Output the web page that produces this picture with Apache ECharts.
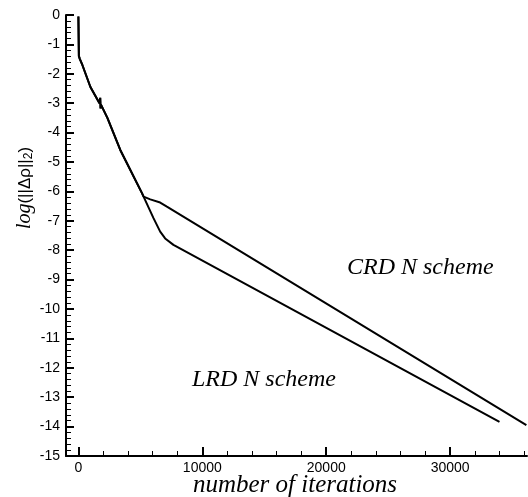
<!doctype html>
<html lang="en">
<head>
    <meta charset="UTF-8">
    <title>residual history</title>
    <script src="https://cdn.jsdelivr.net/npm/echarts@6/dist/echarts.min.js"></script>
    <style>
        html, body { margin: 0; padding: 0; background: #fff; }
        #chart { width: 528px; height: 497px; }
    </style>
</head>
<body>
<div id="chart"></div>
<script type="text/javascript">
    // common start of both runs (iterations, log residual)
    var commonPart = [[0,-0.05],[40,-1.40],[120,-1.50],[320,-1.70],[970,-2.45],[1700,-3.00],[1760,-2.82],[1790,-3.18],[1820,-3.05],[2340,-3.50],[3380,-4.59],[5130,-6.06],[5260,-6.18]];
    // after the knee
    var crdTail = [[5800,-6.27],[6600,-6.38],[7140,-6.52],[36150,-13.95]];
    var lrdTail = [[6060,-6.91],[6600,-7.37],[7000,-7.60],[7670,-7.82],[33980,-13.84]];

    var xMajor = [0, 10000, 20000, 30000];
    var xMinor = [2000,4000,6000,8000,12000,14000,16000,18000,22000,24000,26000,28000,32000,34000,36000];

    var crd = commonPart.concat(crdTail);
    var lrd = commonPart.concat(lrdTail);

    var myChart = echarts.init(document.getElementById('chart'));
    var axisFont = {fontFamily: 'Liberation Sans', fontSize: 14, color: '#000'};
    var serif = 'Liberation Serif';

    myChart.setOption({
        animation: false,
        grid: {left: 66, top: 15, right: 1, bottom: 41},
        xAxis: [
            {
                type: 'value', min: -1000, max: 36200, position: 'bottom',
                splitLine: {show: false},
                axisLine: {onZero: false, lineStyle: {color: '#000', width: 2}},
                axisTick: {inside: true, length: 9, customValues: xMajor, lineStyle: {color: '#000', width: 2}},
                axisLabel: Object.assign({margin: 5, customValues: xMajor, formatter: function (v) { return String(v); }}, axisFont)
            },
            {
                type: 'value', min: -1000, max: 36200, position: 'bottom',
                splitLine: {show: false},
                axisLine: {show: false, onZero: false},
                axisTick: {inside: true, length: 5, customValues: xMinor, lineStyle: {color: '#000', width: 1}},
                axisLabel: {show: false}
            }
        ],
        yAxis: {
            type: 'value', min: -15, max: 0, interval: 1,
            splitLine: {show: false},
            axisLine: {onZero: false, lineStyle: {color: '#000', width: 2}},
            axisTick: {inside: true, length: 8, lineStyle: {color: '#000', width: 2}},
            minorTick: {show: true, splitNumber: 5, length: 5, lineStyle: {color: '#000', width: 1}},
            axisLabel: Object.assign({margin: 6}, axisFont)
        },
        graphic: [
            {
                type: 'text', x: 295, y: 485,
                style: {text: 'number of iterations', font: 'italic 25px ' + serif, fill: '#000', align: 'center', verticalAlign: 'middle'}
            },
            {
                type: 'text', x: 347, y: 280,
                style: {text: 'CRD N scheme', font: 'italic 24px ' + serif, fill: '#000', verticalAlign: 'bottom'}
            },
            {
                type: 'text', x: 192, y: 392,
                style: {text: 'LRD N scheme', font: 'italic 24px ' + serif, fill: '#000', verticalAlign: 'bottom'}
            },
            {
                type: 'text', x: 25, y: 188, rotation: Math.PI / 2,
                style: {
                    text: '{i|log}{n|(||Δρ||}{s|2}{n|)}',
                    align: 'center', verticalAlign: 'middle',
                    rich: {
                        i: {font: 'italic 20px ' + serif, fill: '#000'},
                        n: {font: '17px Liberation Sans', fill: '#000'},
                        s: {font: '12px Liberation Sans', fill: '#000', verticalAlign: 'bottom', padding: [6, 0, 0, 0]}
                    }
                }
            }
        ],
        series: [
            {
                name: 'CRD N scheme', type: 'line', xAxisIndex: 0, showSymbol: false,
                lineStyle: {color: '#000', width: 2}, data: crd
            },
            {
                name: 'LRD N scheme', type: 'line', xAxisIndex: 0, showSymbol: false,
                lineStyle: {color: '#000', width: 2}, data: lrd
            }
        ]
    });
</script>
</body>
</html>
